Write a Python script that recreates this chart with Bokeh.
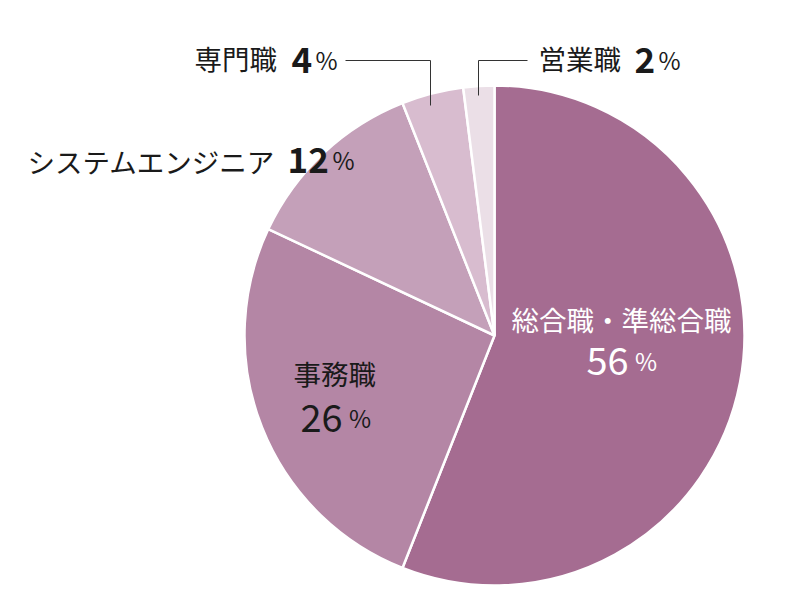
"""Job category breakdown pie."""
import numpy as np
from bokeh.core.properties import value
from bokeh.embed import file_html
from bokeh.models import ColumnDataSource, Range1d
from bokeh.plotting import figure
from bokeh.resources import INLINE

# data
categories = ["総合職・準総合職", "事務職", "システムエンジニア", "専門職", "営業職"]
shares = [56, 26, 12, 4, 2]
colors = ["#a56c91", "#b486a5", "#c4a0b9", "#d8bccf", "#ebdfe7"]

JP = "Noto Sans CJK JP"
INK = "#1a1a1a"

W, H = 778, 591
CX, CY, R = 494, 335, 250  # screen px
TEXT_SHIFT = 13  # svg text sits a little low


def sy(y):
    """Screen y to data y."""
    return 607 - y


p = figure(
    width=W,
    height=H,
    x_range=Range1d(0, W),
    y_range=Range1d(16, 16 + H),
    min_border=0,
    toolbar_location=None,
    output_backend="svg",
)
p.axis.visible = False
p.grid.visible = False
p.outline_line_color = None
p.background_fill_color = "white"

# wedges, clockwise from 12 o'clock
frac = np.array(shares) / sum(shares)
ends = np.pi / 2 - np.cumsum(frac) * 2 * np.pi
starts = np.concatenate([[np.pi / 2], ends[:-1]])
src = ColumnDataSource(dict(start=starts, end=ends, color=colors))
p.wedge(
    x=CX, y=sy(CY), radius=R,
    start_angle="start", end_angle="end", direction="clock",
    fill_color="color", line_color="white", line_width=2.5, source=src,
)

# leader lines
p.line([345, 430, 430], [sy(60), sy(60), sy(105)], line_color="#333333", line_width=1)
p.line([527, 478, 478], [sy(60), sy(60), sy(95)], line_color="#333333", line_width=1)

# labels: (name x, name baseline, num x, num baseline, bold, color, num size)
layout = [
    (511, 331, 586, 373, False, "white", 38),
    (293, 385, 300, 430, False, INK, 38),
    (27, 173, 287, 172, True, INK, 35),
    (194, 70, 291, 72, True, INK, 35),
    (538, 70, 634, 72, True, INK, 35),
]

for name, s, (nx, ny, dx, dy, bold, col, size) in zip(categories, shares, layout):
    ny -= TEXT_SHIFT
    dy -= TEXT_SHIFT
    p.text(
        x=[nx], y=[sy(ny)], text=[name],
        text_font=value(JP), text_font_size="27.5px",
        text_color=col, text_align="left", text_baseline="alphabetic",
    )
    num = str(s)
    p.text(
        x=[dx], y=[sy(dy)], text=[num],
        text_font=value(JP), text_font_size=f"{size}px",
        text_font_style="bold" if bold else "normal",
        text_color=col, text_align="left", text_baseline="alphabetic",
    )
    nw = len(num) * size * 0.6
    p.text(
        x=[dx + nw + 3], y=[sy(dy)], text=["%"],
        text_font=value(JP), text_font_size="24px",
        text_color=col, text_align="left", text_baseline="alphabetic",
    )

open("out.html", "w").write(file_html(p, INLINE))
